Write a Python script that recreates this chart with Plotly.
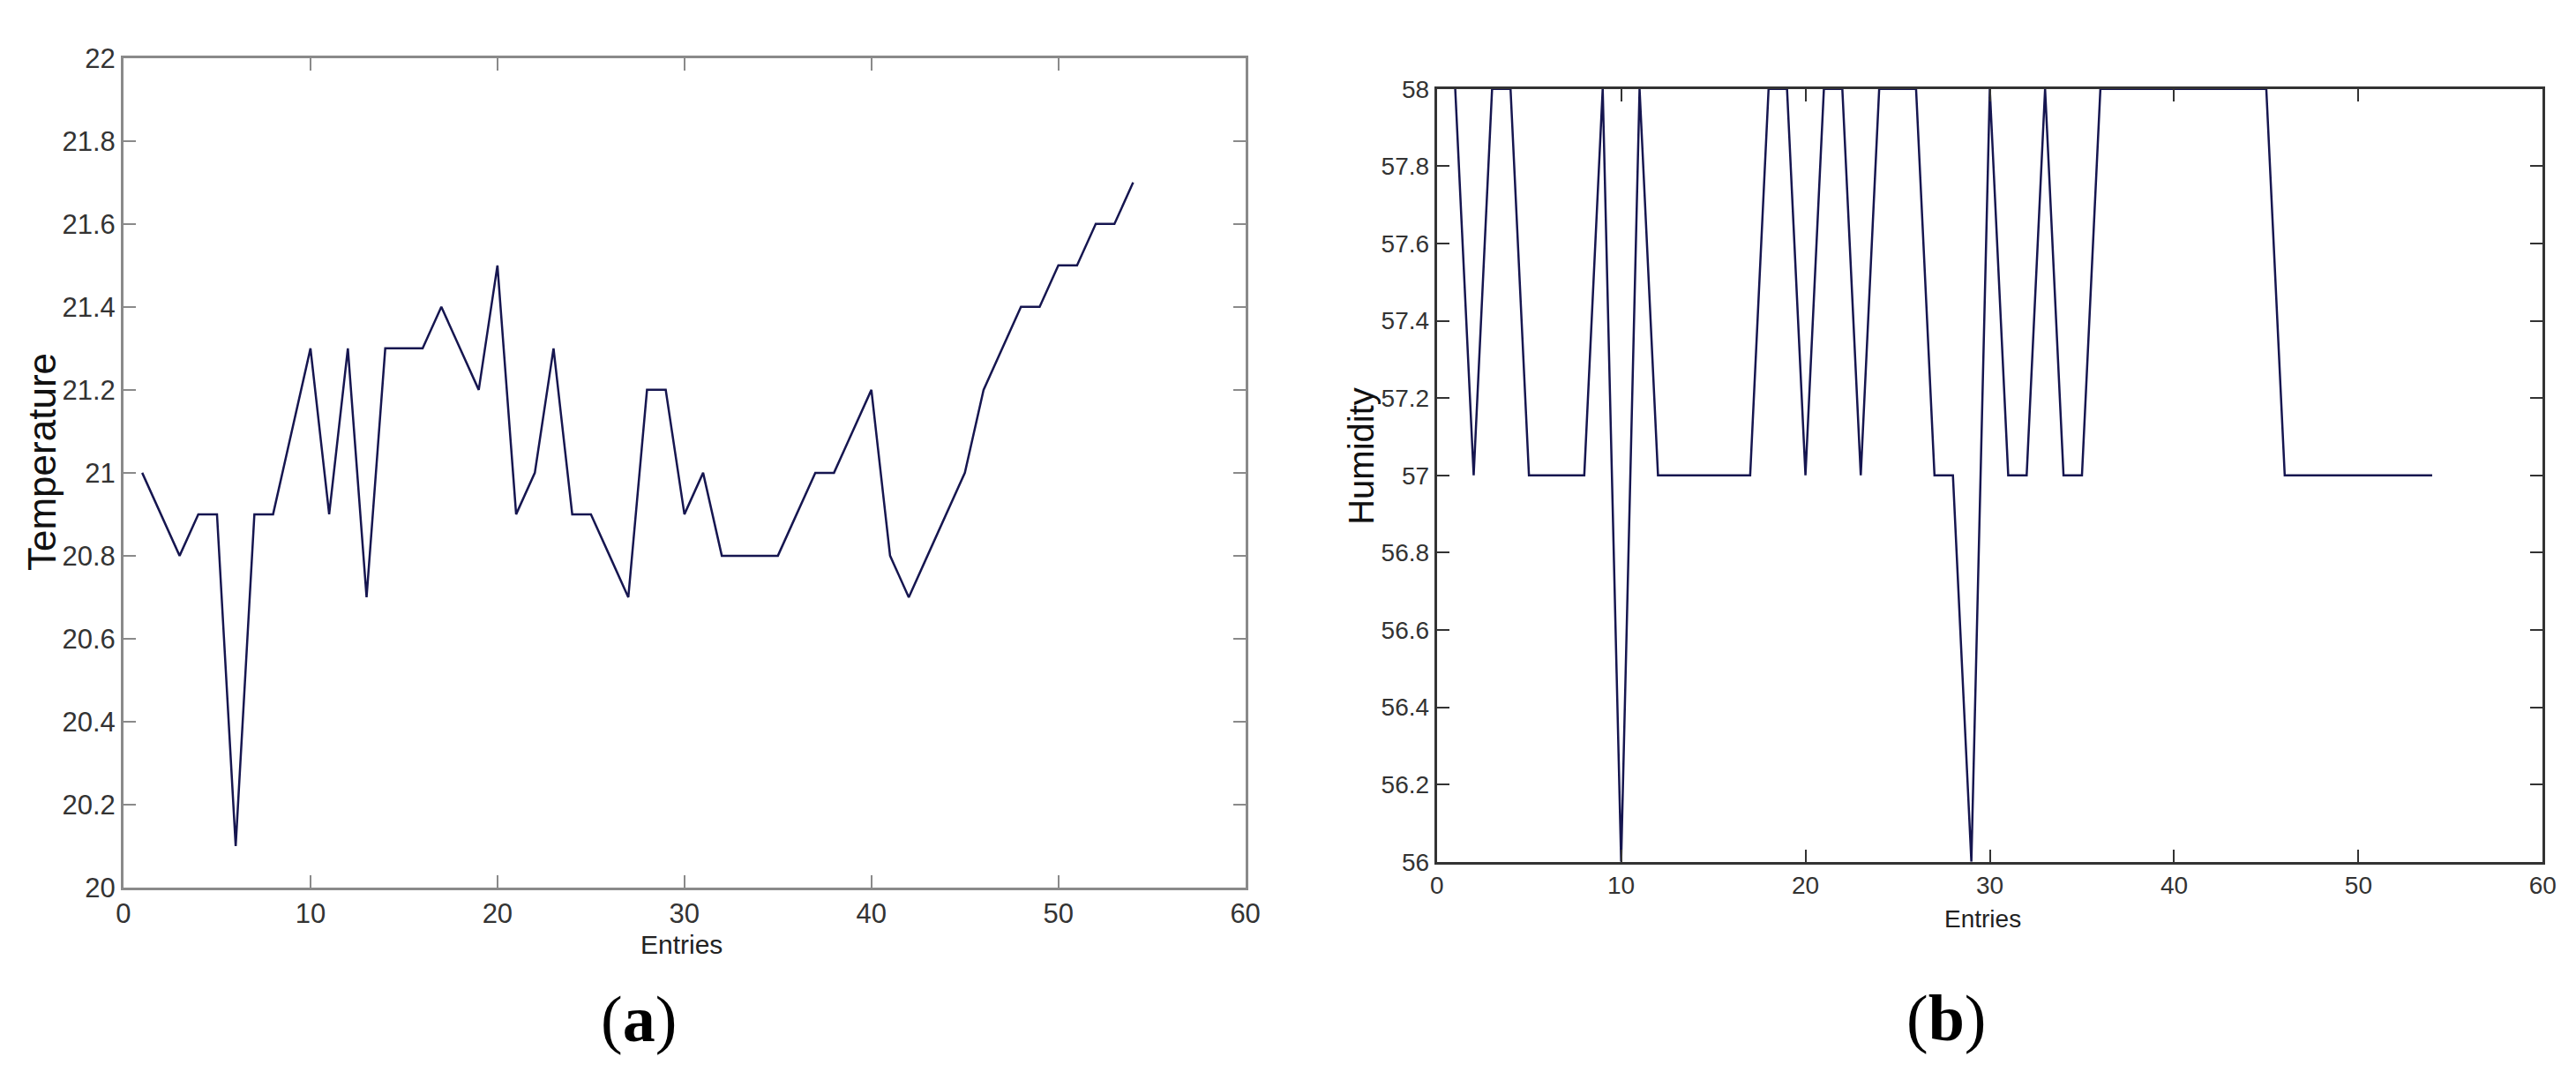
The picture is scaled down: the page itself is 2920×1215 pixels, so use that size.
from plotly import graph_objects as go

# entry index shared by both panels
entries = list(range(1, 55))

temperature = [
    21.0, 20.9, 20.8, 20.9, 20.9, 20.1, 20.9, 20.9, 21.1, 21.3,
    20.9, 21.3, 20.7, 21.3, 21.3, 21.3, 21.4, 21.3, 21.2, 21.5,
    20.9, 21.0, 21.3, 20.9, 20.9, 20.8, 20.7, 21.2, 21.2, 20.9,
    21.0, 20.8, 20.8, 20.8, 20.8, 20.9, 21.0, 21.0, 21.1, 21.2,
    20.8, 20.7, 20.8, 20.9, 21.0, 21.2, 21.3, 21.4, 21.4, 21.5,
    21.5, 21.6, 21.6, 21.7,
]

humidity = [
    58, 57, 58, 58, 57, 57, 57, 57, 58, 56,
    58, 57, 57, 57, 57, 57, 57, 58, 58, 57,
    58, 58, 57, 58, 58, 58, 57, 57, 56, 58,
    57, 57, 58, 57, 57, 58, 58, 58, 58, 58,
    58, 58, 58, 58, 58, 57, 57, 57, 57, 57,
    57, 57, 57, 57,
]

LINE_COLOR = "#161650"
TICK_FONT = "Liberation Sans, Arial, sans-serif"
LABEL_FONT = "Liberation Serif, Times New Roman, serif"


def axis_style(frame_color, font_size, **kw):
    style = dict(
        showline=True,
        linecolor=frame_color,
        linewidth=3,
        mirror="ticks",
        ticks="inside",
        ticklen=14,
        tickwidth=2,
        tickcolor=frame_color,
        showgrid=False,
        zeroline=False,
        tickfont=dict(family=TICK_FONT, size=font_size, color="#333333"),
    )
    style.update(kw)
    return style


fig = go.Figure()
fig.add_trace(
    go.Scatter(x=entries, y=temperature, mode="lines",
               line=dict(color=LINE_COLOR, width=2.5),
               xaxis="x", yaxis="y", showlegend=False)
)
fig.add_trace(
    go.Scatter(x=entries, y=humidity, mode="lines",
               line=dict(color=LINE_COLOR, width=2.5),
               xaxis="x2", yaxis="y2", showlegend=False)
)

fig.update_layout(
    width=2920,
    height=1215,
    margin=dict(l=0, r=0, t=0, b=0),
    paper_bgcolor="white",
    plot_bgcolor="white",
    xaxis=axis_style("#8a8a8a", 31, domain=[0.0425, 0.4819], range=[0, 60],
                     dtick=10, tick0=0, anchor="y"),
    yaxis=axis_style("#8a8a8a", 31, domain=[0.1687, 0.9654], range=[20, 22],
                     dtick=0.2, tick0=20, anchor="x"),
    xaxis2=axis_style("#333333", 28, domain=[0.5569, 0.9901], range=[0, 60],
                      dtick=10, tick0=0, anchor="y2"),
    yaxis2=axis_style("#333333", 28, domain=[0.1934, 0.9358], range=[56, 58],
                      dtick=0.2, tick0=56, anchor="x2"),
)

annotations = [
    dict(text="Entries", x=0.261, y=0.1144, font=dict(family=TICK_FONT, size=30, color="#222222")),
    dict(text="Entries", x=0.7709, y=0.1383, font=dict(family=TICK_FONT, size=28, color="#222222")),
    dict(text="Temperature", x=0.0103, y=0.5778, textangle=-90,
         font=dict(family=TICK_FONT, size=44, color="#111111")),
    dict(text="Humidity", x=0.5274, y=0.5835, textangle=-90,
         font=dict(family=TICK_FONT, size=40, color="#111111")),
    dict(text="(<b>a</b>)", x=0.2442, y=0.042, font=dict(family=LABEL_FONT, size=74, color="black")),
    dict(text="(<b>b</b>)", x=0.7565, y=0.043, font=dict(family=LABEL_FONT, size=74, color="black")),
]
for a in annotations:
    fig.add_annotation(xref="paper", yref="paper", showarrow=False,
                       xanchor="center", yanchor="middle", **a)

fig.write_html("out.html")
